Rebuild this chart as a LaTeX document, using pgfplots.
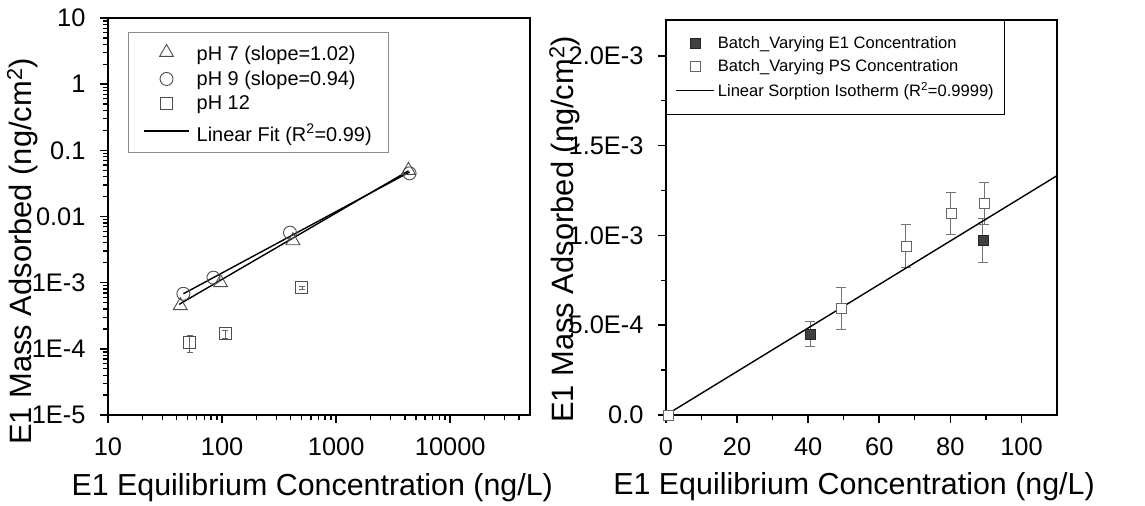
\documentclass[border=0pt]{standalone}
\usepackage{fontspec}
\setmainfont{Liberation Sans}
\usepackage{pgfplots}
\pgfplotsset{compat=1.18}

\pgfplotsset{
  panel/.style={
    scale only axis, anchor=south west,
    axis line style={line width=2bp},
    tick align=outside, tick pos=left,
    major tick length=8bp, minor tick length=5bp,
    major tick style={line width=1.6bp, black},
    minor tick style={line width=1.3bp, black},
    tick label style={font=\fontsize{25.5}{30}\selectfont},
    yticklabel shift=11bp,
    xticklabel shift=11bp,
    xlabel style={font=\fontsize{30.5}{36}\selectfont, anchor=base},
    ylabel style={font=\fontsize{31}{36}\selectfont, anchor=base},
    /pgf/number format/assume math mode=true,
    legend cell align=left,
  },
  % legend samples do not change the row height; the invisible path keeps their width
  markleg/.style={legend image code/.code={%
    \path (0bp,0bp) (#1,0bp);
    \draw[overlay,##1,mark repeat=2,mark phase=2] plot coordinates {(0bp,0bp) ({0.5*#1},0bp) (#1,0bp)};}},
  lineleg/.style={legend image code/.code={%
    \path (0bp,0bp) (#1,0bp);
    \draw[overlay,##1] (0bp,0bp) -- (#1,0bp);}},
}

\begin{document}
\begin{tikzpicture}
\useasboundingbox (0bp,0bp) rectangle (1145bp,506bp);

% ---------------- left panel: log-log sorption data ----------------
\begin{axis}[panel,
  at={(108bp,91bp)}, width=422bp, height=397bp,
  xmode=log, ymode=log,
  xmin=10, xmax=50000, ymin=1e-5, ymax=10,
  xtick={10,100,1000,10000}, xticklabels={10,100,1000,10000},
  minor xtick={20,30,40,50,60,70,80,90,200,300,400,500,600,700,800,900,
    2000,3000,4000,5000,6000,7000,8000,9000,20000,30000,40000},
  ytick={1e-5,1e-4,1e-3,1e-2,1e-1,1,10},
  yticklabels={1E-5,1E-4,1E-3,0.01,0.1,1,10},
  minor ytick={2e-5,3e-5,4e-5,5e-5,6e-5,7e-5,8e-5,9e-5,
    2e-4,3e-4,4e-4,5e-4,6e-4,7e-4,8e-4,9e-4,
    2e-3,3e-3,4e-3,5e-3,6e-3,7e-3,8e-3,9e-3,
    0.02,0.03,0.04,0.05,0.06,0.07,0.08,0.09,
    0.2,0.3,0.4,0.5,0.6,0.7,0.8,0.9,2,3,4,5,6,7,8,9},
  xlabel={E1 Equilibrium Concentration (ng/L)},
  ylabel={E1 Mass Adsorbed (ng/cm\textsuperscript{2})},
  xlabel style={at={(axis description cs:0.484,-0.2015)}},
  ylabel style={at={(axis description cs:-0.182,0.412)}},
  legend style={at={(axis description cs:0.047,0.965)}, anchor=north west,
    draw=black!45, line width=1bp, font=\fontsize{20}{22}\selectfont,
    inner xsep=15bp, inner ysep=8bp, row sep=4.5bp,
    /tikz/every odd column/.append style={column sep=5bp}},
]
\addplot[only marks, mark=triangle, mark size=8bp, draw=black!70, line width=0.9bp, markleg=45bp]
  coordinates {(43,4.5e-4) (97,1.0e-3) (418,4.3e-3) (4300,0.0498)};
\addlegendentry{\rule{0pt}{18.6bp}pH 7 (slope=1.02)}
\addplot[only marks, mark=o, mark size=6.5bp, draw=black!70, line width=0.9bp, markleg=45bp]
  coordinates {(45.8,6.8e-4) (84,1.19e-3) (394,5.7e-3) (4400,0.0449)};
\addlegendentry{pH 9 (slope=0.94)}
\addplot[only marks, mark=square, mark size=6bp, draw=black!70, line width=0.9bp, markleg=45bp,
  error bars/.cd, y dir=both, y explicit,
  error bar style={black!60, line width=0.8bp},
  error mark options={rotate=90, mark size=3bp, black!60}]
  coordinates {(52,1.23e-4) +- (0,3.5e-5) (107,1.69e-4) +- (0,2.2e-5) (501,8.4e-4) +- (0,5e-5)};
\addlegendentry{pH 12}
\addplot[black, line width=1.4bp, lineleg=45bp]
  coordinates {(42,4.7e-4) (4300,0.049)};
\addlegendentry{\rule{0pt}{22bp}Linear Fit (R\textsuperscript{2}=0.99)\hspace{5bp}}
\addplot[black, line width=1.4bp, forget plot]
  coordinates {(45.8,6.8e-4) (4400,0.047)};
\end{axis}

% ---------------- right panel: linear isotherm ----------------
\begin{axis}[panel,
  at={(666bp,91bp)}, width=391bp, height=395bp,
  clip=false,
  xmin=0, xmax=110, ymin=0, ymax=2.2e-3,
  xtick={0,20,40,60,80,100}, minor x tick num=1,
  ytick={0,5e-4,1e-3,1.5e-3,2e-3},
  yticklabels={0.0,5.0E-4,1.0E-3,1.5E-3,2.0E-3},
  minor y tick num=1, scaled y ticks=false,
  xlabel={E1 Equilibrium Concentration (ng/L)},
  ylabel={E1 Mass Adsorbed (ng/cm\textsuperscript{2})},
  xlabel style={at={(axis description cs:0.481,-0.2025)}},
  ylabel style={at={(axis description cs:-0.237,0.47)}},
  legend style={at={(axis description cs:0,1)}, anchor=north west,
    draw=black, line width=1bp, font=\fontsize{16.6}{19}\selectfont,
    inner xsep=9bp, inner ysep=14bp, row sep=5.5bp,
    /tikz/every odd column/.append style={column sep=1bp}},
]
\addplot[only marks, mark=square*, mark size=5bp, mark options={fill=black!75, draw=black!85},
  markleg=38bp,
  error bars/.cd, y dir=both, y explicit,
  error bar style={black!55, line width=1bp},
  error mark options={rotate=90, mark size=5bp, black!55, line width=1bp}]
  coordinates {(40.6,4.5e-4) +- (0,7e-5) (89.1,9.72e-4) +- (0,1.2e-4)};
\addlegendentry{Batch\_Varying E1 Concentration}
\addplot[only marks, mark=square*, mark size=5bp, mark options={fill=white, draw=black!60},
  markleg=38bp,
  error bars/.cd, y dir=both, y explicit,
  error bar style={black!55, line width=1bp},
  error mark options={rotate=90, mark size=5bp, black!55, line width=1bp}]
  coordinates {(49.3,5.94e-4) +- (0,1.17e-4) (67.5,9.39e-4) +- (0,1.2e-4)
               (80.1,1.122e-3) +- (0,1.15e-4) (89.6,1.178e-3) +- (0,1.15e-4)};
\addlegendentry{Batch\_Varying PS Concentration}
\addplot[black, line width=1.4bp, lineleg=38bp]
  coordinates {(0,0) (110,1.333e-3)};
\addlegendentry{Linear Sorption Isotherm (R\textsuperscript{2}=0.9999)\hspace{12bp}}
\addplot[only marks, mark=square*, mark size=5bp, mark options={fill=white, draw=black!60}, forget plot]
  coordinates {(0.5,0)};
\end{axis}
\end{tikzpicture}
\end{document}
